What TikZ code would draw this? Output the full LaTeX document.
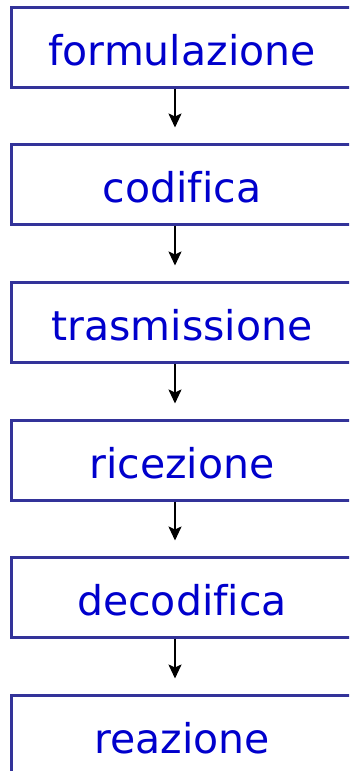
\documentclass[tikz,border=0pt]{standalone}
\usepackage{fontspec}
\setmainfont[Ligatures={NoCommon,NoRequired}]{DejaVu Sans}
\usetikzlibrary{arrows.meta}
\definecolor{boxblue}{RGB}{51,51,153}
\definecolor{txtblue}{RGB}{0,0,204}
\newcommand{\nofi}{f\kern0pt i}

\begin{document}
\begin{tikzpicture}[
                stage/.style={draw=boxblue,line width=3pt,minimum width=342pt,minimum height=80pt,
                    inner sep=0pt,text height=36pt,text depth=0pt,text=txtblue,
                    font=\fontsize{41}{41}\selectfont},
                flow/.style={draw=black,line width=2pt,-{Stealth[length=14pt,width=13pt,inset=3pt]}}
            ]
                \useasboundingbox (0pt,0pt) rectangle (349pt,-771pt);
                \clip (0pt,0pt) rectangle (349pt,-771pt);

                \node[stage] (form) at (182pt,-47pt)  {formulazione};
                \node[stage] (cod)  at (182pt,-184pt) {codi\nofi ca};
                \node[stage] (tras) at (182pt,-322pt) {trasmissione};
                \node[stage] (ric)  at (182pt,-460pt) {ricezione};
                \node[stage] (dec)  at (182pt,-597pt) {decodi\nofi ca};
                \node[stage] (rea)  at (182pt,-735pt) {reazione};

                \draw[flow] ([xshift=-7pt]form.south) -- ([xshift=-7pt,yshift=15pt]cod.north);
                \draw[flow] ([xshift=-7pt]cod.south)  -- ([xshift=-7pt,yshift=15pt]tras.north);
                \draw[flow] ([xshift=-7pt]tras.south) -- ([xshift=-7pt,yshift=15pt]ric.north);
                \draw[flow] ([xshift=-7pt]ric.south)  -- ([xshift=-7pt,yshift=15pt]dec.north);
                \draw[flow] ([xshift=-7pt]dec.south)  -- ([xshift=-7pt,yshift=15pt]rea.north);
            \end{tikzpicture}
\end{document}
